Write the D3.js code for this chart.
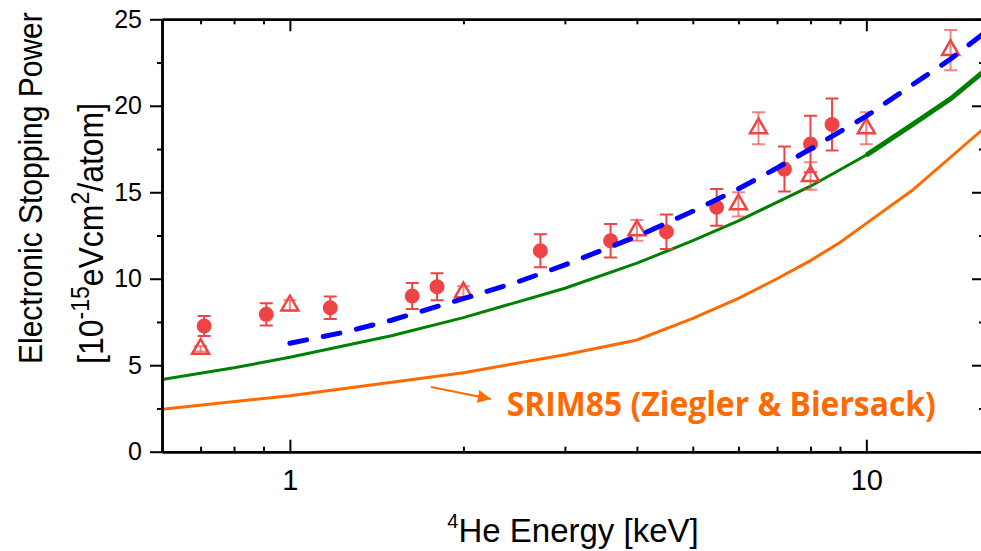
<!DOCTYPE html>
<html>
<head>
<meta charset="utf-8">
<script src="https://cdn.jsdelivr.net/npm/d3@7"></script>
<style>
  body { margin: 0; background: #fff; }
  svg { display: block; font-family: "Liberation Sans", Arial, sans-serif; }
</style>
</head>
<body>
<div id="chart"></div>
<script>
// measured points (filled circles)
const circleE   = [0.71, 0.91, 1.175, 1.63, 1.80, 2.72, 3.60, 4.50, 5.50, 7.21, 8.00, 8.72];
const circleS   = [7.27, 7.94, 8.32, 9.00, 9.54, 11.62, 12.20, 12.72, 14.13, 16.34, 17.79, 18.92];
const circleErr = [0.58, 0.65, 0.65, 0.75, 0.78, 0.95, 0.97, 1.00, 1.06, 1.30, 1.64, 1.50];

// measured points (open triangles)
const triE   = [0.70, 1.00, 2.00, 4.00, 6.00, 6.50, 8.00, 10.0, 14.0];
const triS   = [5.94, 8.45, 9.21, 12.80, 14.30, 18.70, 15.94, 18.70, 23.22];
const triErr = [0.15, 0.30, 0.35, 0.60, 0.70, 0.92, 0.80, 0.92, 1.16];

// blue dashed curve
const fitE = [1.0, 1.24, 1.5, 2.0, 2.5, 3.0, 4.0, 5.0, 6.0, 7.0, 8.0, 10.0, 12.0, 14.0, 16.0];
const fitS = [6.27, 6.9, 7.6, 8.85, 9.85, 10.8, 12.45, 13.9, 15.2, 16.4, 17.5, 19.4, 21.2, 22.7, 24.2];

// green curve
const greenE = [0.6, 0.8, 1.0, 1.5, 2.0, 3.0, 4.0, 5.0, 6.0, 8.0, 10.0, 12.0, 14.0, 16.0];
const greenS = [4.18, 4.85, 5.46, 6.7, 7.75, 9.45, 10.9, 12.2, 13.35, 15.35, 17.15, 18.9, 20.4, 22.0];

// SRIM85 curve
const srimE = [0.6, 1.0, 2.0, 3.0, 4.0, 5.0, 6.0, 7.0, 8.0, 9.0, 10.0, 12.0, 16.0];
const srimS = [2.45, 3.24, 4.57, 5.6, 6.46, 7.71, 8.87, 10.0, 11.05, 12.1, 13.2, 15.1, 18.7];

// ticks
const xMajor = [1, 10];
const xMinor = [0.7, 0.8, 0.9, 2, 3, 4, 5, 6, 7, 8, 9];
const yMajor = [0, 5, 10, 15, 20, 25];
const yMinor = [2.5, 7.5, 12.5, 17.5, 22.5];

// annotation (data coords): arrow start, arrow end, label
const arrowE = [1.756, 2.231];
const arrowS = [3.74, 3.05];
const labelE = 2.378, labelS = 2.06;
const labelText = 'SRIM85 (Ziegler & Biersack)';

const width = 981, height = 551;
const padL = 162, padR = 984, padT = 19.3, padB = 451.7;
const red = '#ef4444';

const svg = d3.select('#chart').append('svg')
  .attr('width', width)
  .attr('height', height);

const x = d3.scaleLog().domain([0.6, 16]).range([padL, padR]);
const y = d3.scaleLinear().domain([0, 25]).range([padB, padT]);

svg.append('clipPath').attr('id', 'plot')
  .append('rect')
  .attr('x', padL).attr('y', padT)
  .attr('width', padR - padL).attr('height', padB - padT);

const plot = svg.append('g').attr('clip-path', 'url(#plot)');

const line = d3.line().x(d => x(d[0])).y(d => y(d[1]));

// curves
plot.append('path')
  .datum(d3.zip(srimE, srimS))
  .attr('d', line)
  .attr('fill', 'none')
  .attr('stroke', '#ff6a00')
  .attr('stroke-width', 3);

const green = d3.zip(greenE, greenS);
plot.append('path')
  .datum(green)
  .attr('d', line)
  .attr('fill', 'none')
  .attr('stroke', '#008000')
  .attr('stroke-width', 3);
plot.append('path')
  .datum(green.filter(d => d[0] >= 10))
  .attr('d', line)
  .attr('fill', 'none')
  .attr('stroke', '#008000')
  .attr('stroke-width', 5);

// error bars + markers
function errBars(g, E, S, err, color) {
  const data = d3.zip(E, S, err);
  const eb = g.append('g').attr('stroke', color).attr('stroke-width', 2);
  eb.selectAll('line.v').data(data).enter().append('line')
    .attr('x1', d => x(d[0])).attr('x2', d => x(d[0]))
    .attr('y1', d => y(d[1] - d[2])).attr('y2', d => y(d[1] + d[2]));
  eb.selectAll('line.t').data(data).enter().append('line')
    .attr('x1', d => x(d[0]) - 6.5).attr('x2', d => x(d[0]) + 6.5)
    .attr('y1', d => y(d[1] + d[2])).attr('y2', d => y(d[1] + d[2]));
  eb.selectAll('line.b').data(data).enter().append('line')
    .attr('x1', d => x(d[0]) - 6.5).attr('x2', d => x(d[0]) + 6.5)
    .attr('y1', d => y(d[1] - d[2])).attr('y2', d => y(d[1] - d[2]));
}

errBars(plot, triE, triS, triErr, 'rgba(239,68,68,0.65)');
plot.selectAll('path.tri')
  .data(d3.zip(triE, triS))
  .enter().append('path')
  .attr('class', 'tri')
  .attr('d', d3.symbol(d3.symbolTriangle, 125))
  .attr('transform', d => `translate(${x(d[0])},${y(d[1])})`)
  .attr('fill', 'none')
  .attr('stroke', red)
  .attr('stroke-width', 2.5);

errBars(plot, circleE, circleS, circleErr, red);
plot.selectAll('circle')
  .data(d3.zip(circleE, circleS))
  .enter().append('circle')
  .attr('cx', d => x(d[0]))
  .attr('cy', d => y(d[1]))
  .attr('r', 7.5)
  .attr('fill', red);

// blue dashed curve on top
plot.append('path')
  .datum(d3.zip(fitE, fitS))
  .attr('d', line)
  .attr('fill', 'none')
  .attr('stroke', '#0000ff')
  .attr('stroke-width', 5)
  .attr('stroke-linecap', 'round')
  .attr('stroke-dasharray', '17,17');

// AXES
function styleAxis(g) {
  g.select('.domain').attr('stroke', '#000').attr('stroke-width', 2.5);
  g.selectAll('.tick line').attr('stroke', '#000').attr('stroke-width', 2);
}

const bx = svg.append('g').attr('transform', `translate(0,${padB})`)
  .call(d3.axisBottom(x).tickValues(xMajor).tickSize(-12).tickSizeOuter(0)
    .tickPadding(17.5).tickFormat(d3.format('d')));
bx.selectAll('text').attr('font-size', 29).attr('fill', '#000')
  .attr('font-family', '"Liberation Sans", Arial, sans-serif');
styleAxis(bx);
const bxm = svg.append('g').attr('transform', `translate(0,${padB})`)
  .call(d3.axisBottom(x).tickValues(xMinor).tickSize(-5).tickSizeOuter(0).tickFormat(''));
styleAxis(bxm);

const tx = svg.append('g').attr('transform', `translate(0,${padT})`)
  .call(d3.axisTop(x).tickValues(xMajor).tickSize(-12).tickSizeOuter(0).tickFormat(''));
styleAxis(tx);
const txm = svg.append('g').attr('transform', `translate(0,${padT})`)
  .call(d3.axisTop(x).tickValues(xMinor).tickSize(-5).tickSizeOuter(0).tickFormat(''));
styleAxis(txm);

const ly = svg.append('g').attr('transform', `translate(${padL},0)`)
  .call(d3.axisLeft(y).tickValues(yMajor).tickSize(12).tickSizeOuter(0).tickPadding(8));
ly.selectAll('text').attr('font-size', 25).attr('fill', '#000')
  .attr('font-family', '"Liberation Sans", Arial, sans-serif');
styleAxis(ly);
const lym = svg.append('g').attr('transform', `translate(${padL},0)`)
  .call(d3.axisLeft(y).tickValues(yMinor).tickSize(5).tickSizeOuter(0).tickFormat(''));
styleAxis(lym);

const ry = svg.append('g').attr('transform', `translate(${padR},0)`)
  .call(d3.axisRight(y).tickValues(yMajor).tickSize(-12).tickSizeOuter(0).tickFormat(''));
styleAxis(ry);
const rym = svg.append('g').attr('transform', `translate(${padR},0)`)
  .call(d3.axisRight(y).tickValues(yMinor).tickSize(-5).tickSizeOuter(0).tickFormat(''));
styleAxis(rym);

// x title
const xt = svg.append('text')
  .attr('x', (padL + padR) / 2)
  .attr('y', 541.7)
  .attr('text-anchor', 'middle')
  .attr('font-size', 33)
  .attr('fill', '#000');
xt.append('tspan').attr('font-size', 20).attr('dy', -14).text('4');
xt.append('tspan').attr('dy', 14).text('He Energy [keV]');

// y title, two lines (glyphs a bit wider, like the original)
svg.append('text')
  .attr('transform', 'translate(42,364) scale(1.12,1) rotate(-90)')
  .attr('font-size', 30)
  .attr('fill', '#000')
  .text('Electronic Stopping Power');

const yt = svg.append('text')
  .attr('transform', 'translate(103,364) scale(1.1,1) rotate(-90)')
  .attr('font-size', 32)
  .attr('fill', '#000');
yt.append('tspan').text('[10');
yt.append('tspan').attr('font-size', 23).attr('dy', -13).text('-15');
yt.append('tspan').attr('dy', 13).text('eVcm');
yt.append('tspan').attr('font-size', 23).attr('dy', -13).text('2');
yt.append('tspan').attr('dy', 13).text('/atom]');

// annotation arrow + label
svg.append('defs').append('marker')
  .attr('id', 'arrow')
  .attr('viewBox', '0 0 10 10')
  .attr('refX', 10).attr('refY', 5)
  .attr('markerWidth', 13).attr('markerHeight', 13)
  .attr('markerUnits', 'userSpaceOnUse')
  .attr('orient', 'auto')
  .append('path')
  .attr('d', 'M0,0 L10,5 L0,10 Z')
  .attr('fill', '#ff6a00');

svg.append('line')
  .attr('x1', x(arrowE[0])).attr('y1', y(arrowS[0]))
  .attr('x2', x(arrowE[1])).attr('y2', y(arrowS[1]))
  .attr('stroke', '#ff6a00')
  .attr('stroke-width', 2)
  .attr('marker-end', 'url(#arrow)');

svg.append('text')
  .attr('x', x(labelE))
  .attr('y', y(labelS))
  .attr('font-family', '"Open Sans", sans-serif')
  .attr('font-weight', 700)
  .attr('font-size', 34)
  .attr('textLength', 429)
  .attr('lengthAdjust', 'spacingAndGlyphs')
  .attr('fill', '#ff6a00')
  .text(labelText);
</script>
</body>
</html>
